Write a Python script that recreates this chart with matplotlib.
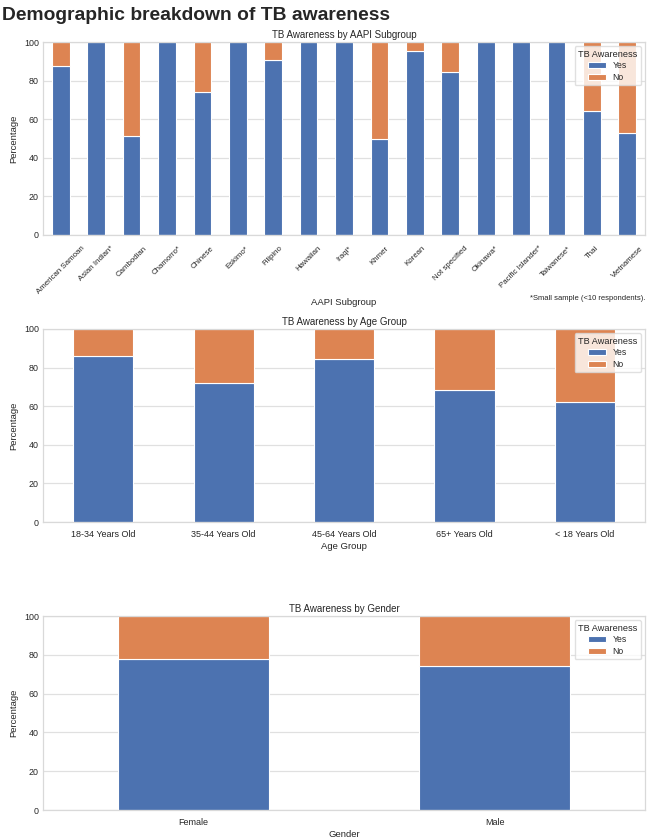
import matplotlib
matplotlib.use("Agg")
import matplotlib.pyplot as plt
import numpy as np
import pandas as pd
import seaborn as sns

sns.set_theme(style="whitegrid")
plt.rcParams['font.family'] = ['Liberation Sans', 'DejaVu Sans']

subgroups = ["American Samoan", "Asian Indian*", "Cambodian", "Chamorro*", "Chinese",
             "Eskimo*", "Filipino", "Hawaiian", "Iraqi*", "Khmer", "Korean",
             "Not specified", "Okinawa*", "Pacific Islander*", "Taiwanese*", "Thai", "Vietnamese"]
subgroup_yes = [87.5, 100, 51.3, 100, 74.2, 100, 90.8, 100, 100, 50.0, 95.2,
                84.2, 100, 100, 100, 64.0, 52.6]

age_groups = ["18-34 Years Old", "35-44 Years Old", "45-64 Years Old", "65+ Years Old", "< 18 Years Old"]
age_yes = [86.2, 72.0, 84.5, 68.5, 62.0]

genders = ["Female", "Male"]
gender_yes = [77.9, 74.0]

W, H = 650, 839
fig = plt.figure(figsize=(W / 100, H / 100), dpi=100)

def make_ax(top_px, bot_px):
    left, right = 43, 645
    return fig.add_axes([left / W, 1 - bot_px / H, (right - left) / W, (bot_px - top_px) / H])

def draw(ax, cats, yes, title, xlabel, rot=0):
    yes = np.array(yes, dtype=float)
    df = pd.DataFrame({"Yes": yes, "No": 100 - yes}, index=cats)
    df.plot(kind="bar", stacked=True, ax=ax, color=["#4c72b0", "#dd8452"],
            edgecolor="white", linewidth=0.8, width=0.5)
    ax.set_ylim(0, 100)
    ax.set_title(title, fontsize=7, pad=3)
    ax.set_xlabel(xlabel, fontsize=6.8, labelpad=2)
    ax.set_ylabel("Percentage", fontsize=6.8, labelpad=4)
    ax.tick_params(axis="y", labelsize=6.4, pad=3, length=0)
    ax.tick_params(axis="x", labelsize=6.5, pad=6, length=0)
    if rot:
        plt.setp(ax.get_xticklabels(), rotation=rot, ha="center", fontsize=5.7)
        ax.tick_params(axis="x", pad=7)
    else:
        plt.setp(ax.get_xticklabels(), rotation=0)
    ax.grid(axis="x", visible=False)
    ax.grid(axis="y", color="#e0e0e0", linewidth=0.9)
    for s in ax.spines.values():
        s.set_color("#d9d9d9")
        s.set_linewidth(0.9)
    leg = ax.legend(title="TB Awareness", loc="upper right", fontsize=6.2,
                    title_fontsize=6.6, frameon=True, borderpad=0.4,
                    handlelength=2.0, labelspacing=0.3)
    leg.get_frame().set_edgecolor("#d9d9d9")
    return ax

ax1 = make_ax(42, 235)
draw(ax1, subgroups, subgroup_yes, "TB Awareness by AAPI Subgroup", "AAPI Subgroup", rot=45)
ax1.text(1.0, -0.31, "*Small sample (<10 respondents).", transform=ax1.transAxes,
         ha="right", va="top", fontsize=5.5)

ax2 = make_ax(329, 522)
draw(ax2, age_groups, age_yes, "TB Awareness by Age Group", "Age Group")

ax3 = make_ax(616, 810)
draw(ax3, genders, gender_yes, "TB Awareness by Gender", "Gender")

fig.text(0.003, 0.992, "Demographic breakdown of TB awareness", fontsize=13.9,
         fontweight="bold", ha="left", va="top")

fig.savefig("out.png", dpi=100)
